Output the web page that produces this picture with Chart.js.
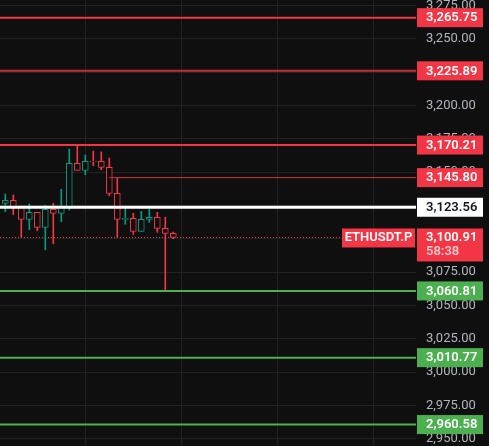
<!DOCTYPE html>
<html>
<head>
<meta charset="utf-8">
<script src="https://cdn.jsdelivr.net/npm/chart.js@4.4.1/dist/chart.umd.min.js"></script>
<style>
  html, body { margin: 0; padding: 0; background: #0f0f0f; }
  #wrap { width: 489px; height: 446px; }
</style>
</head>
<body>
<div id="wrap"><canvas id="myChart"></canvas></div>
<script>
// candles (5m ETHUSDT.P)
const opens  = [3126.5, 3128.75, 3123.5, 3114.5, 3119.75, 3108.5, 3122, 3119, 3123.5, 3156.5, 3151.25, 3158, 3158, 3153.5, 3134, 3114.5, 3115.25, 3105.5, 3114.5, 3116, 3107.75, 3104];
const highs  = [3133.5, 3132.7, 3123.5, 3126, 3119.75, 3125, 3126.5, 3137, 3167.2, 3170.2, 3162.7, 3165.7, 3165, 3160.5, 3145.7, 3123.5, 3119, 3120.5, 3122, 3119.75, 3116, 3105];
const lows   = [3120.2, 3118, 3101, 3106.7, 3106, 3091.7, 3096.2, 3112.7, 3121.5, 3151.25, 3148, 3154.7, 3151.7, 3132.2, 3101, 3110.75, 3103.25, 3105.5, 3112.25, 3104.75, 3061, 3100];
const closes = [3128.75, 3123.5, 3114.5, 3119.75, 3108.5, 3122, 3119, 3123.5, 3156.5, 3151.25, 3158, 3157.5, 3153.5, 3134, 3114.5, 3115.25, 3105.5, 3114.5, 3116, 3107.75, 3104, 3100.91];

// horizontal levels
const levelValues = [3265.75, 3225.89, 3170.21, 3145.80, 3123.56, 3060.81, 3010.77, 2960.58];
const levelStarts = [null, null, null, 14, null, null, null, null]; // candle where a level begins
const yTicks = [2950, 2975, 3000, 3025, 3050, 3075, 3100, 3125, 3150, 3175, 3200, 3225, 3250, 3275];
const timeGrid = [11, 23, 35, 47];

const symbol = 'ETHUSDT.P';
const lastPrice = 3100.91;
const countdown = '58:38';

const RED = '#f23645';
const GREEN_C = '#089981';
const GREEN_L = '#4caf50';
const BG = '#0f0f0f';
const X_MIN = 0.3375, X_MAX = 52.3375;

const levelColors = [RED, '#c62f3b', RED, '#d0313e', '#ffffff', GREEN_L, GREEN_L, GREEN_L];
const levelWidths = [2, 2, 2, 1, 3, 2, 2, 2];
const badgeColors = [RED, RED, RED, RED, '#ffffff', GREEN_L, GREEN_L, GREEN_L];

const idx = opens.map((o, i) => i + 1);
const candleColor = opens.map((o, i) => (closes[i] >= o ? GREEN_C : RED));
const fmt = (v) => v.toLocaleString('en-US', { minimumFractionDigits: 2, maximumFractionDigits: 2 });

const levelSets = levelValues.map((v, i) => ({
  type: 'line',
  data: [{ x: levelStarts[i] || X_MIN, y: v }, { x: X_MAX, y: v }],
  borderColor: levelColors[i],
  borderWidth: levelWidths[i],
  pointRadius: 0,
  order: -1,
}));

const priceLine = {
  type: 'line',
  data: [{ x: X_MIN, y: lastPrice }, { x: X_MAX, y: lastPrice }],
  borderColor: RED,
  borderWidth: 1,
  borderDash: [1, 2],
  pointRadius: 0,
  order: 3,
};

// price badges on the right axis
const badgePlugin = {
  id: 'badges',
  afterDatasetsDraw(chart) {
    const { ctx, scales, chartArea } = chart;
    const y = scales.y;
    const left = chartArea.right + 1;
    const w = 66;
    const h = 19;
    ctx.save();
    ctx.font = '600 13px Roboto';
    ctx.textBaseline = 'middle';
    levelValues.forEach((v, i) => {
      const py = y.getPixelForValue(v);
      ctx.fillStyle = badgeColors[i];
      ctx.fillRect(left, py - h / 2, w, h);
      ctx.fillStyle = badgeColors[i] === '#ffffff' ? '#131722' : '#ffffff';
      ctx.textAlign = 'left';
      ctx.fillText(fmt(v), left + 9, py + 0.5);
    });
    // last price with countdown
    const py = y.getPixelForValue(lastPrice);
    ctx.fillStyle = RED;
    ctx.fillRect(left, py - 9, w, 33);
    ctx.fillStyle = '#ffffff';
    ctx.fillText(fmt(lastPrice), left + 9, py + 0.5);
    ctx.fillStyle = 'rgba(255,255,255,0.72)';
    ctx.fillText(countdown, left + 9, py + 14);
    // symbol tag
    ctx.fillStyle = RED;
    ctx.fillRect(chartArea.right - 74, py - 9, 73, h);
    ctx.fillStyle = '#ffffff';
    ctx.textAlign = 'center';
    ctx.fillText(symbol, chartArea.right - 37.5, py + 0.5);
    ctx.restore();
  },
};

const ctx = document.getElementById('myChart').getContext('2d');
new Chart(ctx, {
  type: 'bar',
  data: {
    datasets: [
      ...levelSets,
      {
        // hollow bodies
        data: idx.map((x, i) => ({ x, y: [opens[i], closes[i]] })),
        backgroundColor: BG,
        borderColor: candleColor,
        borderWidth: 1,
        borderSkipped: false,
        barThickness: 6,
        grouped: false,
        order: 0,
      },
      {
        // wicks
        data: idx.map((x, i) => ({ x, y: [lows[i], highs[i]] })),
        backgroundColor: candleColor,
        borderWidth: 0,
        barThickness: 1,
        grouped: false,
        order: 1,
      },
      priceLine,
    ],
  },
  options: {
    responsive: true,
    maintainAspectRatio: false,
    animation: false,
    layout: { padding: 0 },
    plugins: { legend: { display: false }, tooltip: { enabled: false } },
    scales: {
      x: {
        type: 'linear',
        min: X_MIN,
        max: X_MAX,
        offset: false,
        border: { display: false },
        grid: { color: '#222222', drawTicks: false, offset: false },
        ticks: { display: false },
        afterBuildTicks: (s) => { s.ticks = timeGrid.map((v) => ({ value: v })); },
        afterFit: (s) => { s.height = 0; s.paddingLeft = 0; s.paddingRight = 0; },
      },
      y: {
        position: 'right',
        min: 2944.5,
        max: 3279,
        border: { display: false },
        grid: { color: '#222222', drawTicks: false },
        ticks: {
          color: '#b2b5be',
          padding: 10,
          font: { family: 'Roboto', size: 13 },
          callback: (v) => fmt(v),
        },
        afterBuildTicks: (s) => { s.ticks = yTicks.map((v) => ({ value: v })); },
        afterFit: (s) => { s.width = 73; s.paddingTop = 0; s.paddingBottom = 0; },
      },
    },
  },
  plugins: [badgePlugin],
});
</script>
</body>
</html>
